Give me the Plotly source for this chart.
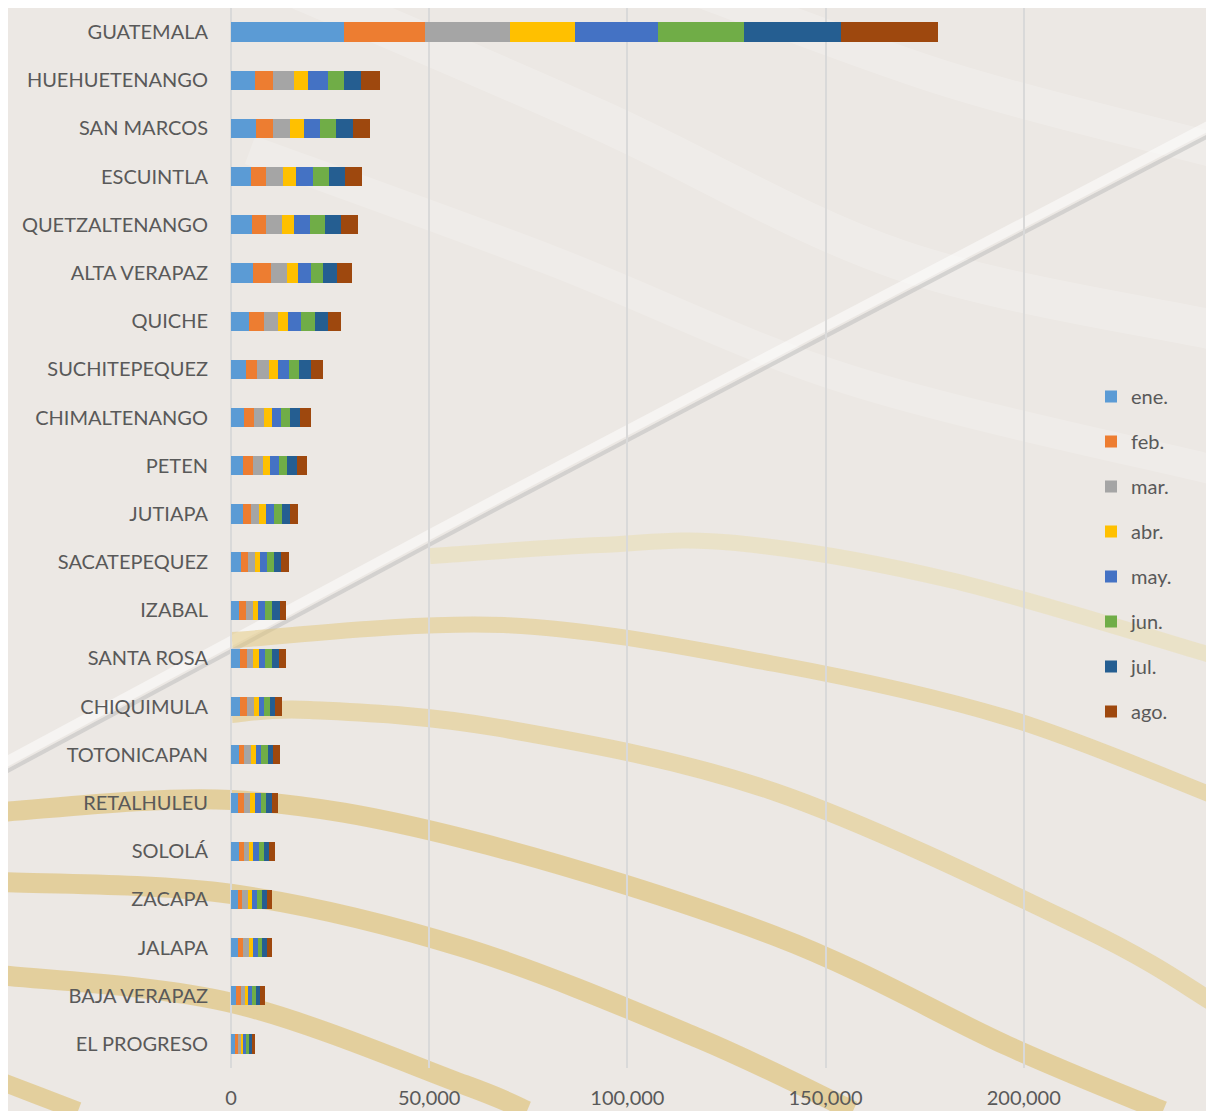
import plotly.graph_objects as go

departments = ["GUATEMALA", "HUEHUETENANGO", "SAN MARCOS", "ESCUINTLA", "QUETZALTENANGO",
               "ALTA VERAPAZ", "QUICHE", "SUCHITEPEQUEZ", "CHIMALTENANGO", "PETEN", "JUTIAPA",
               "SACATEPEQUEZ", "IZABAL", "SANTA ROSA", "CHIQUIMULA", "TOTONICAPAN", "RETALHULEU",
               "SOLOLÁ", "ZACAPA", "JALAPA", "BAJA VERAPAZ", "EL PROGRESO"]
months = ["ene.", "feb.", "mar.", "abr.", "may.", "jun.", "jul.", "ago."]

ene = [28580, 6060, 6310, 4970, 5390, 5560, 4630, 3790, 3370, 3110, 3110, 2530, 2100, 2360, 2360, 2100, 1850, 1940, 1770, 1680, 1260, 1010]
feb = [20380, 4630, 4210, 3870, 3540, 4630, 3620, 2780, 2530, 2360, 1940, 1850, 1770, 1680, 1680, 1260, 1430, 1350, 1090, 1430, 1180, 840]
mar = [21340, 5220, 4460, 4290, 3960, 4040, 3620, 3110, 2530, 2690, 2100, 1600, 1680, 1600, 1770, 1600, 1520, 1350, 1430, 1520, 1090, 760]
abr = [16440, 3540, 3370, 3370, 3030, 2690, 2610, 2190, 1850, 1680, 1680, 1260, 1350, 1430, 1260, 1260, 1180, 1010, 1010, 1010, 670, 510]
may = [21080, 4970, 4210, 4290, 3960, 3280, 3280, 2860, 2360, 2270, 1940, 1850, 1680, 1600, 1350, 1430, 1680, 1520, 1260, 1090, 1180, 760]
jun = [21590, 4120, 3960, 3870, 3870, 3030, 3450, 2530, 2360, 2020, 2100, 1680, 1680, 1600, 1350, 1600, 1260, 1260, 1260, 1180, 930, 670]
jul = [24420, 4290, 4380, 4040, 4040, 3620, 3200, 2860, 2530, 2530, 1940, 1850, 2020, 1770, 1430, 1430, 1350, 1260, 1260, 1260, 1010, 670]
ago = [24440, 4720, 4290, 4290, 4290, 3700, 3370, 3030, 2690, 2530, 2020, 1940, 1680, 1850, 1680, 1680, 1600, 1350, 1350, 1090, 1260, 930]

series = [ene, feb, mar, abr, may, jun, jul, ago]
colors = ["#5b9bd5", "#ed7d31", "#a5a5a5", "#ffc000", "#4472c4", "#70ad47", "#255e91", "#9e480e"]

fig = go.Figure()
for name, vals, col in zip(months, series, colors):
    fig.add_trace(go.Bar(y=departments, x=vals, name=name, orientation="h",
                         marker=dict(color=col, line=dict(width=0)), legendgroup=name))

# page has an 8px body margin; work in reference-screen coordinates and shift by 8
OFF = 8
W, H = 1214 - OFF, 1111 - OFF
L, R, T, B = 231 - OFF, 1214 - OFF, 0, 1068 - OFF   # plot area in figure px
def px(x):
    return (x - OFF - L) / (R - L)
def py(y):
    return (B - (y - OFF)) / (B - T)

def smooth(points, color, width):
    # Catmull-Rom -> cubic bezier path in paper coords
    pts = [(px(x), py(y)) for x, y in points]
    d = f"M {pts[0][0]},{pts[0][1]}"
    for i in range(len(pts) - 1):
        p0 = pts[i - 1] if i > 0 else pts[i]
        p1 = pts[i]
        p2 = pts[i + 1]
        p3 = pts[i + 2] if i + 2 < len(pts) else pts[i + 1]
        c1 = (p1[0] + (p2[0] - p0[0]) / 6, p1[1] + (p2[1] - p0[1]) / 6)
        c2 = (p2[0] - (p3[0] - p1[0]) / 6, p2[1] - (p3[1] - p1[1]) / 6)
        d += f" C {c1[0]},{c1[1]} {c2[0]},{c2[1]} {p2[0]},{p2[1]}"
    return dict(type="path", xref="paper", yref="paper", layer="below", path=d,
                line=dict(color=color, width=width))

g_faint = "rgba(232,214,150,0.35)"
g_mid = "rgba(226,198,120,0.5)"
g_strong = "rgba(222,190,110,0.6)"
shapes = [
    # faint white streaks in the upper area
    smooth([(300, -10), (600, 120), (900, 260), (1214, 330)], "rgba(255,255,255,0.2)", 40),
    smooth([(250, 150), (550, 260), (850, 380), (1214, 470)], "rgba(255,255,255,0.18)", 30),
    smooth([(700, -10), (950, 80), (1214, 150)], "rgba(255,255,255,0.2)", 35),
    # diagonal grey/white line
    smooth([(0, 765), (504, 495), (1214, 123)], "rgba(255,255,255,0.5)", 10),
    smooth([(0, 775), (504, 505), (1214, 133)], "rgba(185,185,185,0.5)", 4),
    # gold arcs
    smooth([(430, 556), (600, 545), (736, 543), (950, 580), (1214, 656)], g_faint, 16),
    smooth([(232, 640), (504, 625), (775, 664), (1008, 718), (1214, 796)], g_mid, 16),
    smooth([(232, 714), (310, 710), (500, 728), (775, 792), (1085, 929), (1214, 1003)], g_mid, 18),
    smooth([(0, 812), (232, 800), (465, 839), (775, 936), (1008, 1046), (1163, 1111)], g_strong, 20),
    smooth([(0, 882), (232, 894), (465, 948), (698, 1038), (853, 1111)], g_strong, 20),
    smooth([(0, 975), (232, 1003), (465, 1085), (527, 1111)], g_strong, 20),
    smooth([(0, 1081), (78, 1111)], g_strong, 18),
]

fig.update_layout(
    width=W, height=H,
    margin=dict(l=L, r=W - R, t=T, b=H - B),
    paper_bgcolor="#ece8e4", plot_bgcolor="rgba(0,0,0,0)",
    barmode="stack", bargap=0.6,
    font=dict(family="Lato, 'Open Sans', sans-serif", size=20, color="#595959"),
    showlegend=True,
    legend=dict(x=px(1091), y=py(377), xanchor="left", yanchor="top",
                bgcolor="rgba(0,0,0,0)", font=dict(size=20, color="#595959"),
                tracegroupgap=16, itemwidth=30),
    shapes=shapes,
)
fig.update_xaxes(range=[0, 248000], tickvals=[0, 50000, 100000, 150000, 200000],
                 tickformat=",", showgrid=True, gridcolor="#d9d9d9", gridwidth=1.5,
                 zeroline=True, zerolinecolor="#d9d9d9", zerolinewidth=1.5,
                 showline=False, ticks="", ticklabelstandoff=16,
                 tickfont=dict(size=20, color="#595959"))
fig.update_yaxes(autorange="reversed", showgrid=False, ticks="", showline=False,
                 ticklabelstandoff=22, tickfont=dict(size=20, color="#595959"))

fig.write_html("out.html")
